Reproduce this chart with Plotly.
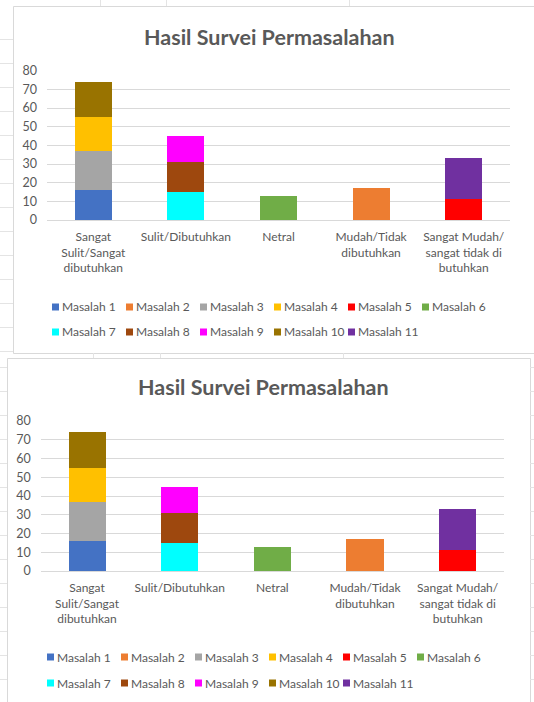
import plotly.graph_objects as go

W, H = 534, 702

categories = ["Sangat<br>Sulit/Sangat<br>dibutuhkan", "Sulit/Dibutuhkan", "Netral",
              "Mudah/Tidak<br>dibutuhkan", "Sangat Mudah/<br>sangat tidak di<br>butuhkan"]
series_names = ["Masalah 1", "Masalah 2", "Masalah 3", "Masalah 4", "Masalah 5", "Masalah 6",
                "Masalah 7", "Masalah 8", "Masalah 9", "Masalah 10", "Masalah 11"]
m1 = [16, None, None, None, None]
m2 = [None, None, None, 17, None]
m3 = [21, None, None, None, None]
m4 = [18, None, None, None, None]
m5 = [None, None, None, None, 11]
m6 = [None, None, 13, None, None]
m7 = [None, 15, None, None, None]
m8 = [None, 16, None, None, None]
m9 = [None, 14, None, None, None]
m10 = [19, None, None, None, None]
m11 = [None, None, None, None, 22]
series_values = [m1, m2, m3, m4, m5, m6, m7, m8, m9, m10, m11]
colors = ["#4472C4", "#ED7D31", "#A5A5A5", "#FFC000", "#FF0000", "#70AD47",
          "#00FFFF", "#9E480E", "#FF00FF", "#997300", "#7030A0"]
y_ticks = [0, 10, 20, 30, 40, 50, 60, 70, 80]
title_text = "Hasil Survei Permasalahan"

FONT = "Lato"
TXT = "#595959"
GRID = "#D9D9D9"


def px(x):
    return x / W


def py(y):
    return 1 - y / H


fig = go.Figure()

panels = [
    dict(xl=47, xr=510, y0=220, y80=70.7, box=(13, 6, 545, 353), title=(269, 37),
         leg_x=52, leg_y=(307, 332)),
    dict(xl=40.7, xr=504, y0=571, y80=421, box=(7, 358, 530, 712), title=(263, 387),
         leg_x=47, leg_y=(657, 683)),
]

shapes = []
annotations = []

# faint spreadsheet grid behind the charts
for yy in range(39, 354, 24):
    shapes.append(dict(type="line", xref="paper", yref="paper", x0=px(0), x1=px(13),
                       y0=py(yy + 0.5), y1=py(yy + 0.5), line=dict(color="#E4E4E4", width=1)))
for yy in range(367, 702, 24):
    shapes.append(dict(type="line", xref="paper", yref="paper", x0=px(0), x1=px(7),
                       y0=py(yy + 0.5), y1=py(yy + 0.5), line=dict(color="#E4E4E4", width=1)))
    shapes.append(dict(type="line", xref="paper", yref="paper", x0=px(530), x1=px(534),
                       y0=py(yy + 0.5), y1=py(yy + 0.5), line=dict(color="#E4E4E4", width=1)))
for xx in (100, 166, 349):
    shapes.append(dict(type="line", xref="paper", yref="paper", x0=px(xx + 0.5), x1=px(xx + 0.5),
                       y0=py(0), y1=py(6), line=dict(color="#E4E4E4", width=1)))
for xx in (93, 160, 343):
    shapes.append(dict(type="line", xref="paper", yref="paper", x0=px(xx + 0.5), x1=px(xx + 0.5),
                       y0=py(353), y1=py(358), line=dict(color="#E4E4E4", width=1)))

for i, p in enumerate(panels):
    sfx = "" if i == 0 else str(i + 1)
    xa, ya = "x" + sfx, "y" + sfx
    for name, vals, col in zip(series_names, series_values, colors):
        fig.add_trace(go.Bar(x=categories, y=vals, name=name, marker_color=col,
                             marker_line_width=0, width=0.4, showlegend=False,
                             xaxis=xa, yaxis=ya))
    fig.layout["xaxis" + sfx] = dict(domain=[px(p["xl"]), px(p["xr"])], anchor=ya,
                                     showgrid=False, showline=False, zeroline=False,
                                     ticks="", ticklabelstandoff=8,
                                     tickfont=dict(family=FONT, size=12, color=TXT),
                                     fixedrange=True, automargin=False)
    fig.layout["yaxis" + sfx] = dict(domain=[py(p["y0"]), py(p["y80"])], anchor=xa,
                                     range=[0, 80], tickvals=y_ticks, showgrid=True,
                                     gridcolor=GRID, gridwidth=1, zeroline=True,
                                     zerolinecolor=GRID, zerolinewidth=1, showline=False,
                                     ticks="", ticklabelstandoff=9,
                                     tickfont=dict(family=FONT, size=12.5, color=TXT),
                                     fixedrange=True, automargin=False)
    bx0, by0, bx1, by1 = p["box"]
    shapes.append(dict(type="rect", xref="paper", yref="paper", x0=px(bx0 + 0.5), x1=px(bx1 + 0.5),
                       y0=py(by0 + 0.5), y1=py(by1 + 0.5), line=dict(color=GRID, width=1),
                       fillcolor="white", layer="below"))
    annotations.append(dict(text="<b>" + title_text + "</b>", xref="paper", yref="paper",
                            x=px(p["title"][0]), y=py(p["title"][1]), showarrow=False,
                            xanchor="center", yanchor="middle",
                            font=dict(family=FONT, size=21.5, color=TXT)))
    for k, (name, col) in enumerate(zip(series_names, colors)):
        row, colidx = divmod(k, 6)
        lx = p["leg_x"] + colidx * 74
        ly = p["leg_y"][row]
        shapes.append(dict(type="rect", xref="paper", yref="paper", x0=px(lx), x1=px(lx + 7),
                           y0=py(ly - 3.5), y1=py(ly + 3.5), fillcolor=col, line=dict(width=0)))
        annotations.append(dict(text=name, xref="paper", yref="paper", x=px(lx + 8), y=py(ly),
                                xanchor="left", yanchor="middle", showarrow=False,
                                font=dict(family=FONT, size=12, color=TXT)))

fig.update_layout(width=W, height=H, margin=dict(l=0, r=0, t=0, b=0, pad=0),
                  barmode="stack", paper_bgcolor="white", plot_bgcolor="rgba(0,0,0,0)",
                  shapes=shapes, annotations=annotations, showlegend=False)

fig.write_html("out.html")
